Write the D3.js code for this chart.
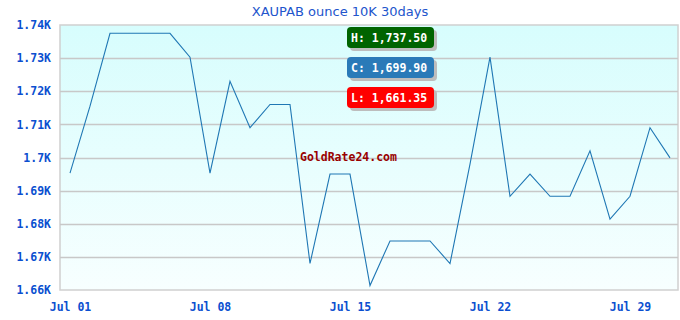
<!DOCTYPE html>
<html>
<head>
<meta charset="utf-8">
<script src="https://cdn.jsdelivr.net/npm/d3@7"></script>
<style>
  body { margin: 0; background: #fff; }
  svg { display: block; }
</style>
</head>
<body>
<svg id="chart" width="680" height="320"></svg>
<script>
// data
const days = d3.range(1, 32);
const prices = [
  1695.3, 1715.5, 1737.5, 1737.5, 1737.5, 1737.5, 1730.3, 1695.3, 1723, 1709,
  1716, 1716, 1668, 1695, 1695, 1661.35, 1674.8, 1674.8, 1674.8, 1668,
  1698, 1730.3, 1688.3, 1695, 1688.3, 1688.3, 1702, 1681.4, 1688.3, 1709,
  1699.9
];
const yTicks = [1660, 1670, 1680, 1690, 1700, 1710, 1720, 1730, 1740];
const xTickDays = [1, 8, 15, 22, 29];
const badges = [
  { label: "H: 1,737.50", color: "#006400" },
  { label: "C: 1,699.90", color: "#2a7ab8" },
  { label: "L: 1,661.35", color: "#ff0000" }
];

const data = days.map((d, i) => ({ date: new Date(2024, 6, d), price: prices[i] }));

const width = 680;
const height = 320;
const margin = { top: 25, right: 2, bottom: 30, left: 60 };

const svg = d3.select("#chart");
const mono = "'DejaVu Sans Mono', monospace";

const x = d3.scaleTime()
  .domain([new Date(2024, 6, 1), new Date(2024, 6, 31)])
  .range([70, 670]);

const y = d3.scaleLinear()
  .domain([1660, 1740])
  .range([height - margin.bottom, margin.top]);

const defs = svg.append("defs");
const grad = defs.append("linearGradient")
  .attr("id", "bg").attr("x1", 0).attr("y1", 0).attr("x2", 0).attr("y2", 1);
grad.append("stop").attr("offset", "0%").attr("stop-color", "#d7fdfd");
grad.append("stop").attr("offset", "100%").attr("stop-color", "#f7ffff");

// plot background
svg.append("rect")
  .attr("x", margin.left)
  .attr("y", margin.top)
  .attr("width", width - margin.right - margin.left)
  .attr("height", height - margin.bottom - margin.top)
  .attr("fill", "url(#bg)")
  .attr("stroke", "#d0d0d0")
  .attr("stroke-width", 1.5);

// horizontal grid
svg.append("g")
  .selectAll("line")
  .data(yTicks.slice(1, -1))
  .enter().append("line")
  .attr("x1", margin.left)
  .attr("x2", width - margin.right)
  .attr("y1", d => Math.round(y(d)) + 0.5)
  .attr("y2", d => Math.round(y(d)) + 0.5)
  .attr("stroke", "#c8c8c8")
  .attr("stroke-width", 1.5);

// y axis labels
const yAxis = svg.append("g")
  .attr("transform", `translate(${margin.left - 3},0)`)
  .call(d3.axisLeft(y).tickValues(yTicks).tickSize(0).tickPadding(6)
    .tickFormat(d => d3.format(".3~s")(d).replace("k", "K")));
yAxis.select(".domain").remove();
yAxis.selectAll("text")
  .attr("fill", "#0b4fd0")
  .style("font-family", mono)
  .style("font-weight", "bold")
  .style("font-size", "11.5px");

// x axis labels
const xAxis = svg.append("g")
  .attr("transform", `translate(0,${height - margin.bottom})`)
  .call(d3.axisBottom(x).tickValues(xTickDays.map(d => new Date(2024, 6, d)))
    .tickSize(0).tickPadding(13)
    .tickFormat(d3.timeFormat("%b %d")));
xAxis.select(".domain").remove();
xAxis.selectAll("text")
  .attr("fill", "#0b4fd0")
  .style("font-family", mono)
  .style("font-weight", "bold")
  .style("font-size", "11.5px");

// watermark
svg.append("text")
  .attr("x", 300)
  .attr("y", 161)
  .attr("fill", "#990000")
  .style("font-family", mono)
  .style("font-weight", "bold")
  .style("font-size", "11.5px")
  .text("GoldRate24.com");

// price line
svg.append("path")
  .datum(data)
  .attr("fill", "none")
  .attr("stroke", "#1f77b4")
  .attr("stroke-width", 1.1)
  .attr("d", d3.line().x(d => x(d.date)).y(d => y(d.price)));

// H / C / L badges
const badge = svg.append("g")
  .selectAll("g")
  .data(badges)
  .enter().append("g")
  .attr("transform", (d, i) => `translate(347,${27 + i * 30})`);
badge.append("rect")
  .attr("x", 3).attr("y", 3)
  .attr("width", 87).attr("height", 21)
  .attr("rx", 4)
  .attr("fill", "#bdbdbd");
badge.append("rect")
  .attr("width", 87).attr("height", 21)
  .attr("rx", 4)
  .attr("fill", d => d.color);
badge.append("text")
  .attr("x", 4)
  .attr("y", 15)
  .attr("fill", "#fff")
  .style("font-family", mono)
  .style("font-weight", "bold")
  .style("font-size", "11.5px")
  .text(d => d.label);

// title
svg.append("text")
  .attr("x", 340)
  .attr("y", 16)
  .attr("text-anchor", "middle")
  .attr("fill", "#2255cc")
  .style("font-family", "'DejaVu Sans', sans-serif")
  .style("font-size", "13px")
  .text("XAUPAB ounce 10K 30days");
</script>
</body>
</html>
